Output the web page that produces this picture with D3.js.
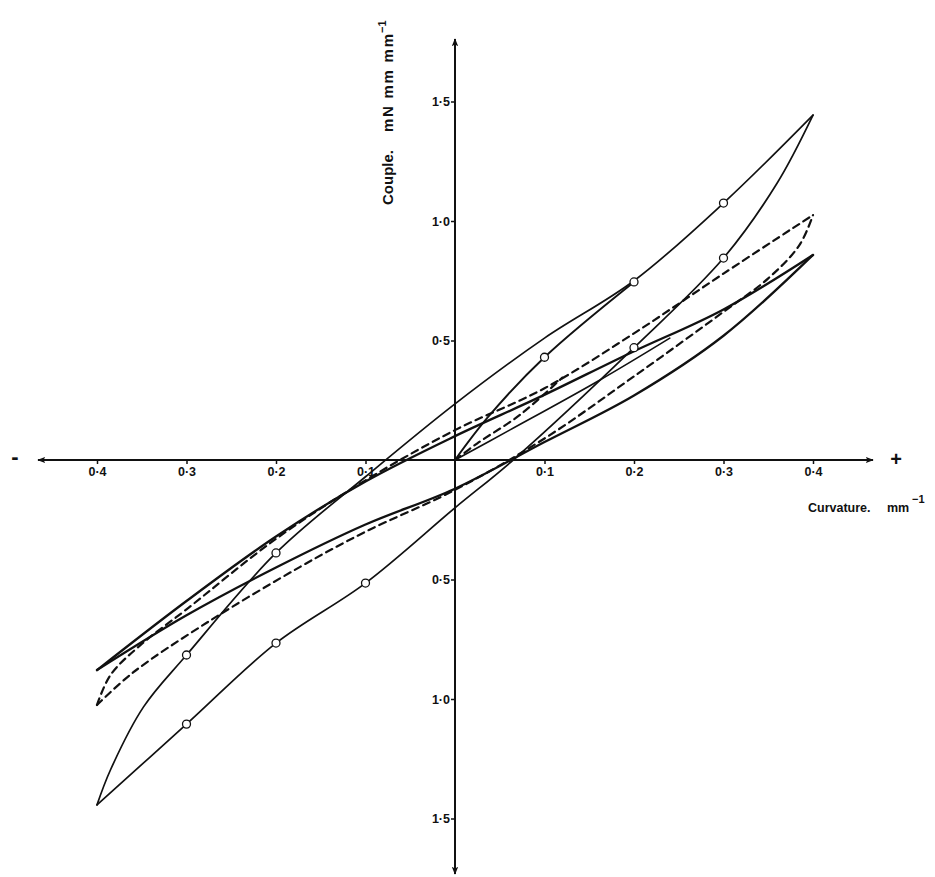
<!DOCTYPE html>
<html>
<head>
<meta charset="utf-8">
<script src="https://cdn.jsdelivr.net/npm/d3@7"></script>
<style>
  html, body { margin: 0; padding: 0; background: #fff; }
  svg { display: block; }
  text { font-family: "Liberation Sans", Arial, sans-serif; fill: #111; white-space: pre; }
</style>
</head>
<body>
<svg id="chart" width="935" height="877"></svg>
<script>
// ---- data (curvature mm^-1, couple mN mm mm^-1) ----
const xTickValues = [-0.4, -0.3, -0.2, -0.1, 0.1, 0.2, 0.3, 0.4];
const xTickLabels = ["0·4", "0·3", "0·2", "0·1", "0·1", "0·2", "0·3", "0·4"];
const yTickValues = [1.5, 1.0, 0.5, -0.5, -1.0, -1.5];
const yTickLabels = ["1·5", "1·0", "0·5", "0·5", "1·0", "1·5"];

// Loop A (thin solid, open circles)
const loopAUpper = [[-0.4,-1.443],[-0.385,-1.297],[-0.348,-1.033],[-0.3,-0.816],[-0.2,-0.389],[-0.1,-0.07],[0,0.235],[0.1,0.51],[0.2,0.75],[0.3,1.075],[0.4,1.443]];
const loopALower = [[-0.4,-1.443],[-0.3,-1.105],[-0.2,-0.766],[-0.1,-0.515],[0,-0.2],[0.065,0],[0.2,0.47],[0.3,0.845],[0.36,1.159],[0.4,1.443]];
const loopAInitial = [[0,0],[0.037,0.18],[0.1,0.43],[0.2,0.745]];
const loopAPoints = [[0.1,0.43],[0.2,0.745],[0.3,1.075],[0.3,0.845],[0.2,0.47],[-0.1,-0.515],[-0.2,-0.766],[-0.3,-1.105],[-0.3,-0.816],[-0.2,-0.389]];

// Loop B (heavier solid)
const loopBUpper = [[-0.4,-0.879],[-0.3,-0.59],[-0.2,-0.32],[-0.1,-0.09],[0,0.1],[0.095,0.264],[0.196,0.448],[0.3,0.63],[0.4,0.858]];
const loopBLower = [[-0.4,-0.879],[-0.3,-0.65],[-0.2,-0.45],[-0.1,-0.27],[0,-0.12],[0.1,0.075],[0.2,0.27],[0.3,0.52],[0.4,0.858]];
const loopBInitial = [[0,0],[0.061,0.125],[0.162,0.335],[0.24,0.51]];

// Loop C (dashed)
const loopCUpper = [[-0.4,-1.025],[-0.385,-0.9],[-0.35,-0.77],[-0.3,-0.625],[-0.2,-0.33],[-0.1,-0.085],[0,0.125],[0.1,0.3],[0.2,0.53],[0.3,0.78],[0.4,1.025]];
const loopCLower = [[-0.4,-1.025],[-0.36,-0.89],[-0.277,-0.68],[-0.173,-0.447],[-0.1,-0.3],[0,-0.125],[0.1,0.09],[0.2,0.35],[0.3,0.62],[0.35,0.76],[0.385,0.9],[0.4,1.025]];
const loopCInitial = [[0,0],[0.025,0.07],[0.073,0.19],[0.12,0.345]];

// ---- drawing ----
const svg = d3.select("#chart");
const x = d3.scaleLinear().domain([-0.4, 0.4]).range([97, 813]);
const y = d3.scaleLinear().domain([-1.5, 1.5]).range([818.5, 101.5]);
const x0 = x(0), y0 = y(0);
const FONT = "'Liberation Sans', Arial, sans-serif";

const defs = svg.append("defs");
defs.append("marker").attr("id", "arr")
  .attr("viewBox", "0 0 10 10").attr("refX", 9).attr("refY", 5)
  .attr("markerWidth", 8).attr("markerHeight", 8).attr("markerUnits", "userSpaceOnUse")
  .attr("orient", "auto")
  .append("path").attr("d", "M0,1 L10,5 L0,9 L2,5 Z").attr("fill", "#111");

// axes lines
[[873, y0], [38, y0]].forEach(p => svg.append("line").attr("x1", x0).attr("y1", y0)
  .attr("x2", p[0]).attr("y2", p[1]).attr("stroke", "#111").attr("stroke-width", 2)
  .attr("marker-end", "url(#arr)"));
[[x0, 39], [x0, 874]].forEach(p => svg.append("line").attr("x1", x0).attr("y1", y0)
  .attr("x2", p[0]).attr("y2", p[1]).attr("stroke", "#111").attr("stroke-width", 2)
  .attr("marker-end", "url(#arr)"));

const xAxis = d3.axisBottom(x).tickValues(xTickValues).tickSize(4).tickPadding(3)
  .tickFormat((d, i) => xTickLabels[i]);
const gx = svg.append("g").attr("transform", `translate(0,${y0})`).call(xAxis);
gx.select(".domain").remove();
gx.selectAll("line").attr("stroke", "#111").attr("stroke-width", 1.5);
gx.selectAll("text").attr("font-size", 12.5).attr("font-weight", "bold")
  .style("font-family", FONT).attr("fill", "#111");

const yAxis = d3.axisLeft(y).tickValues(yTickValues).tickSize(4).tickPadding(1)
  .tickFormat((d, i) => yTickLabels[i]);
const gy = svg.append("g").attr("transform", `translate(${x0},0)`).call(yAxis);
gy.select(".domain").remove();
gy.selectAll("line").attr("stroke", "#111").attr("stroke-width", 1.5);
gy.selectAll("text").attr("font-size", 12.5).attr("font-weight", "bold")
  .style("font-family", FONT).attr("fill", "#111");

// sign marks
svg.append("text").attr("x", 15).attr("y", 464).attr("text-anchor", "middle")
  .attr("font-size", 22).attr("font-weight", "bold").text("-");
svg.append("text").attr("x", 896).attr("y", 466).attr("text-anchor", "middle")
  .attr("font-size", 20).attr("font-weight", "bold").text("+");

// y title (rotated)
svg.append("text").attr("transform", "translate(393,205) rotate(-90)")
  .attr("font-size", 15).attr("font-weight", "bold").text("Couple.");
svg.append("text").attr("transform", "translate(393,132) rotate(-90)")
  .attr("font-size", 15).attr("font-weight", "bold")
  .attr("textLength", 98).attr("lengthAdjust", "spacing").text("mN mm mm");
svg.append("text").attr("transform", "translate(386,33) rotate(-90)")
  .attr("font-size", 11).attr("font-weight", "bold").text("−1");

// x title
svg.append("text").attr("x", 808).attr("y", 512)
  .attr("font-size", 12.5).attr("font-weight", "bold").text("Curvature.");
svg.append("text").attr("x", 887).attr("y", 512)
  .attr("font-size", 12.5).attr("font-weight", "bold").text("mm");
svg.append("text").attr("x", 912).attr("y", 503)
  .attr("font-size", 11).attr("font-weight", "bold").text("−1");

// curves
const line = d3.line().x(d => x(d[0])).y(d => y(d[1])).curve(d3.curveCatmullRom.alpha(0.5));
function draw(data, w, dash) {
  svg.append("path").attr("d", line(data)).attr("fill", "none")
    .attr("stroke", "#111").attr("stroke-width", w)
    .attr("stroke-linejoin", "round").attr("stroke-linecap", "round")
    .attr("stroke-dasharray", dash || null);
}
draw(loopCUpper, 2.2, "7,5");
draw(loopCLower, 2.2, "7,5");
draw(loopCInitial, 2.2, "7,5");
draw(loopBUpper, 2.3);
draw(loopBLower, 2.3);
draw(loopBInitial, 1.6);
draw(loopAUpper, 1.7);
draw(loopALower, 1.7);
draw(loopAInitial, 1.9);

svg.selectAll("circle.pt").data(loopAPoints).enter().append("circle")
  .attr("class", "pt").attr("cx", d => x(d[0])).attr("cy", d => y(d[1])).attr("r", 4)
  .attr("fill", "#fff").attr("stroke", "#111").attr("stroke-width", 1.3);
</script>
</body>
</html>
